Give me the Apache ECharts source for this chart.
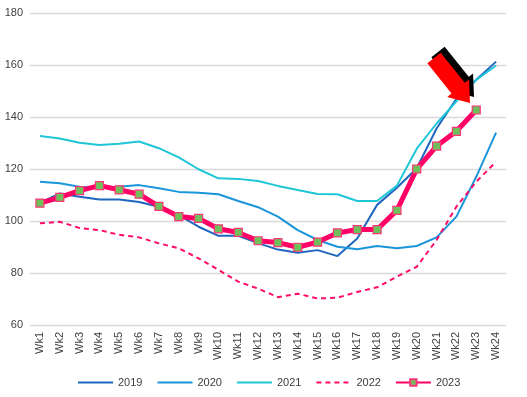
<!DOCTYPE html>
<html>
<head>
<meta charset="utf-8">
<script src="https://cdn.jsdelivr.net/npm/echarts@6/dist/echarts.min.js"></script>
<style>html,body{margin:0;padding:0;background:#fff}#c{width:527px;height:397px}</style>
</head>
<body>
<div id="c"></div>
<script>
const categories = ['Wk1','Wk2','Wk3','Wk4','Wk5','Wk6','Wk7','Wk8','Wk9','Wk10','Wk11','Wk12','Wk13','Wk14','Wk15','Wk16','Wk17','Wk18','Wk19','Wk20','Wk21','Wk22','Wk23','Wk24'];
const s2019 = [107, 110.6, 109.3, 108.3, 108.3, 107.3, 105.5, 102.3, 97.8, 94.3, 94.3, 91.5, 89, 87.8, 88.8, 86.5, 93.3, 106.2, 112.8, 120.3, 135.6, 147, 154.3, 161.3];
const s2020 = [115.1, 114.5, 113.2, 112.6, 113.2, 113.8, 112.6, 111.2, 110.9, 110.3, 107.7, 105.3, 101.7, 96.5, 92.7, 90.1, 89.1, 90.4, 89.5, 90.4, 93.7, 101.7, 117, 134];
const s2021 = [132.7, 131.7, 130.1, 129.2, 129.7, 130.6, 128, 124.5, 119.9, 116.4, 116.2, 115.4, 113.5, 111.9, 110.4, 110.3, 107.7, 107.7, 113.6, 127.8, 137.5, 146, 154.3, 159.8];
const s2022 = [99.1, 99.7, 97.3, 96.5, 94.7, 93.7, 91.4, 89.5, 85.6, 81.2, 76.7, 74, 70.7, 72, 70.2, 70.5, 72.7, 74.5, 78.6, 82.4, 92.7, 105.5, 115.1, 122.8];
const s2023 = [106.9, 109.1, 111.7, 113.6, 112, 110.3, 105.6, 101.7, 101, 97, 95.6, 92.4, 91.7, 89.9, 91.9, 95.4, 96.7, 96.7, 104.1, 120, 128.8, 134.5, 142.7, null];
const yTicks = { min: 60, max: 180, interval: 20 };
const legendNames = ['2019','2020','2021','2022','2023'];

// arrow annotation geometry (pixels)
function arrowPts(tail, tip, hw, headHw, headLen) {
  const dx = tip[0]-tail[0], dy = tip[1]-tail[1];
  const L = Math.hypot(dx, dy); const ux = dx/L, uy = dy/L; const nx = -uy, ny = ux;
  const bx = tip[0]-ux*headLen, by = tip[1]-uy*headLen;
  return [
    [tail[0]+nx*hw, tail[1]+ny*hw],
    [bx+nx*hw, by+ny*hw],
    [bx+nx*headHw, by+ny*headHw],
    tip,
    [bx-nx*headHw, by-ny*headHw],
    [bx-nx*hw, by-ny*hw],
    [tail[0]-nx*hw, tail[1]-ny*hw]
  ];
}
const tail = [434, 58], tip = [470, 103];
const redPts = arrowPts(tail, tip, 8.5, 14, 19);
const blackPts = redPts.map(p => [p[0]+4, p[1]-6]);

const chart = echarts.init(document.getElementById('c'), null, { renderer: 'canvas' });
const font = 'Liberation Sans, Arial, sans-serif';
const lineSeries = (name, data, color, extra) => Object.assign({
  name, type: 'line', data, symbol: 'none', showSymbol: false,
  lineStyle: { color, width: 2 }, itemStyle: { color }, z: 2,
  emphasis: { disabled: true }, animation: false
}, extra || {});

chart.setOption({
  animation: false,
  grid: { left: 30, right: 21, top: 13, bottom: 72, containLabel: false },
  legend: {
    left: 72, top: 372, itemWidth: 35, itemHeight: 8, itemGap: 14,
    textStyle: { fontFamily: font, fontSize: 11, color: '#404040' },
    data: legendNames.map(n => n === '2023' ? { name: n } : { name: n, itemStyle: { opacity: 0 } })
  },
  xAxis: {
    type: 'category', data: categories, boundaryGap: true,
    axisLine: { show: false }, axisTick: { show: false },
    axisLabel: { rotate: 90, margin: 7, fontFamily: font, fontSize: 11, color: '#404040', interval: 0 }
  },
  yAxis: {
    type: 'value', min: yTicks.min, max: yTicks.max, interval: yTicks.interval,
    axisLine: { show: false }, axisTick: { show: false },
    axisLabel: { margin: 7, fontFamily: font, fontSize: 11, color: '#404040' },
    splitLine: { lineStyle: { color: '#d9d9d9', width: 1.3 } }
  },
  series: [
    lineSeries('2019', s2019, '#1f66bf'),
    lineSeries('2020', s2020, '#1a95da'),
    lineSeries('2021', s2021, '#1fc6d6'),
    lineSeries('2022', s2022, '#ff0a6a', { lineStyle: { color: '#ff0a6a', width: 2, type: [5, 4] } }),
    {
      name: '2023', type: 'line', data: s2023, z: 5,
      symbol: 'rect', symbolSize: 8, showSymbol: true,
      lineStyle: { color: '#ff0066', width: 5 },
      itemStyle: { color: '#6fbf5a', borderColor: '#ff3377', borderWidth: 1.2 },
      emphasis: { disabled: true }
    }
  ],
  graphic: [
    { type: 'polygon', z: 100, shape: { points: blackPts }, style: { fill: '#000' } },
    { type: 'polygon', z: 101, shape: { points: redPts }, style: { fill: '#ff0000' } }
  ]
});
</script>
</body>
</html>
